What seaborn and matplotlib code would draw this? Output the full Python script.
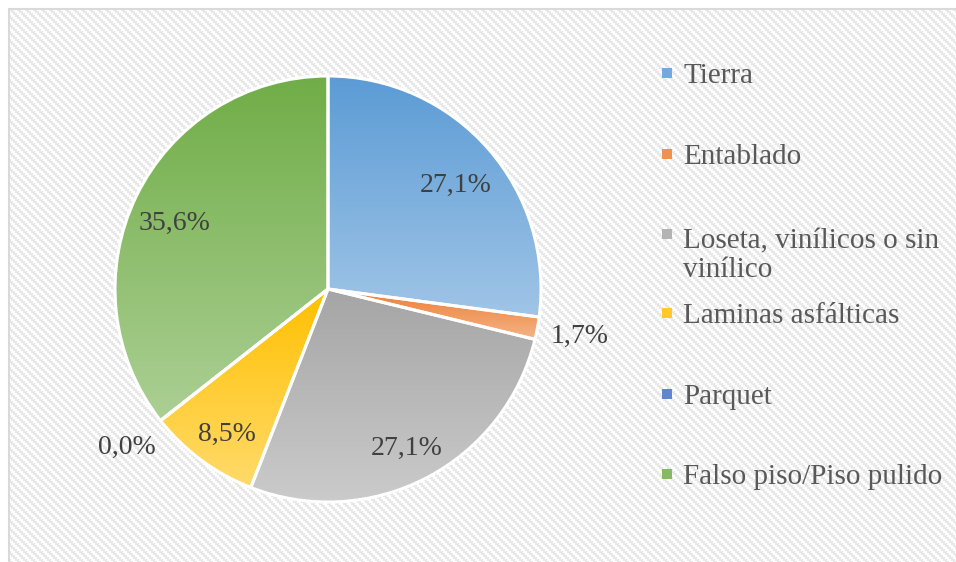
import numpy as np
import matplotlib
matplotlib.use("Agg")
import matplotlib.pyplot as plt
import matplotlib.colors as mcolors
from matplotlib.patches import Rectangle
import seaborn as sns

# data
categories = ["Tierra", "Entablado", "Loseta, vinílicos o sin\nvinílico",
              "Laminas asfálticas", "Parquet", "Falso piso/Piso pulido"]
percentages = [27.1, 1.7, 27.1, 8.5, 0.0, 35.6]
base_colors = ["#5B9BD5", "#ED7D31", "#A5A5A5", "#FFC000", "#4472C4", "#70AD47"]

sns.set_theme(style="white")
plt.rcParams["font.family"] = ["Liberation Serif", "DejaVu Serif"]

W, H, DPI = 956, 562, 100
fig = plt.figure(figsize=(W / DPI, H / DPI), dpi=DPI, facecolor="white")

# --- hatched chart-area background (office style light diagonal) ---
x0_px, y0_px = 9, 9
bw, bh = W - x0_px, H - y0_px
rr, cc = np.mgrid[0:bh, 0:bw]
mask = ((cc - (rr // 2) * 2) % 8) < 4
bg = np.ones((bh, bw, 3))
bg[mask] = np.array([232, 232, 232]) / 255
fig.figimage(bg, xo=x0_px, yo=0, origin="upper", zorder=-2)
fig.add_artist(Rectangle((x0_px / W, -0.02), 1.0, (H - y0_px) / H + 0.02,
                         transform=fig.transFigure, fill=False,
                         edgecolor="#d9d9d9", lw=1.5, zorder=-1))

# --- pie axes: centre (328, 289) px, radius 213 px ---
cx, cy, R = 328, 289, 213
lim = 1.3
half = R * lim
ax = fig.add_axes([(cx - half) / W, (H - cy - half) / H, 2 * half / W, 2 * half / H])
ax.patch.set_alpha(0)

wedges, texts, autotexts = ax.pie(
    percentages, colors=base_colors, startangle=90, counterclock=False,
    radius=1, labels=None,
    autopct=lambda p: f"{p:.1f}%".replace(".", ","), pctdistance=0.8,
    wedgeprops=dict(edgecolor="white", linewidth=2.2),
    textprops=dict(fontsize=20, color="#404040"))


def lighten(c, f):
    rgb = np.array(mcolors.to_rgb(c))
    return rgb + (1 - rgb) * f


# vertical gradient fill per slice (dark at top, light at bottom)
for w, col in zip(wedges, base_colors):
    w.set_zorder(3)
    if abs(w.theta2 - w.theta1) < 1e-6:
        continue
    ext = w.get_path().get_extents()
    t = np.linspace(0, 1, 256)[:, None]
    top, bot = lighten(col, 0.0), lighten(col, 0.42)
    grad = (top[None, :] * (1 - t) + bot[None, :] * t)[:, None, :]
    im = ax.imshow(grad, extent=[ext.x0, ext.x1, ext.y0, ext.y1],
                   origin="upper", aspect="auto", zorder=2, interpolation="bilinear")
    im.set_clip_path(w)
    w.set_facecolor("none")

# move labels of the tiny slices outside the pie, nudge the others a bit down
for i, (w, t) in enumerate(zip(wedges, autotexts)):
    t.set_zorder(5)
    ang = np.deg2rad((w.theta1 + w.theta2) / 2)
    if percentages[i] < 5:
        t.set_position((1.2 * np.cos(ang), 1.2 * np.sin(ang)))
    else:
        x, y = t.get_position()
        t.set_position((x, y - 0.04))

ax.set_xlim(-lim, lim)
ax.set_ylim(-lim, lim)
ax.set_aspect("equal")
ax.axis("off")

# --- legend on the right ---
legend_y = [73, 154, 234, 313, 394, 474]
line_px = 33
for lab, col, y in zip(categories, base_colors, legend_y):
    fig.add_artist(Rectangle((662 / W, 1 - (y + 5) / H), 10 / W, 10 / H,
                             transform=fig.transFigure, facecolor=lighten(col, 0.15),
                             edgecolor="none"))
    extra = (lab.count("\n")) * line_px  # baseline alignment uses the last line
    fig.text(683 / W, 1 - (y + 10 + extra) / H, lab, fontsize=21, color="#595959",
             va="baseline", ha="left", linespacing=1.13)

fig.savefig("out.png", dpi=DPI, facecolor="white")
